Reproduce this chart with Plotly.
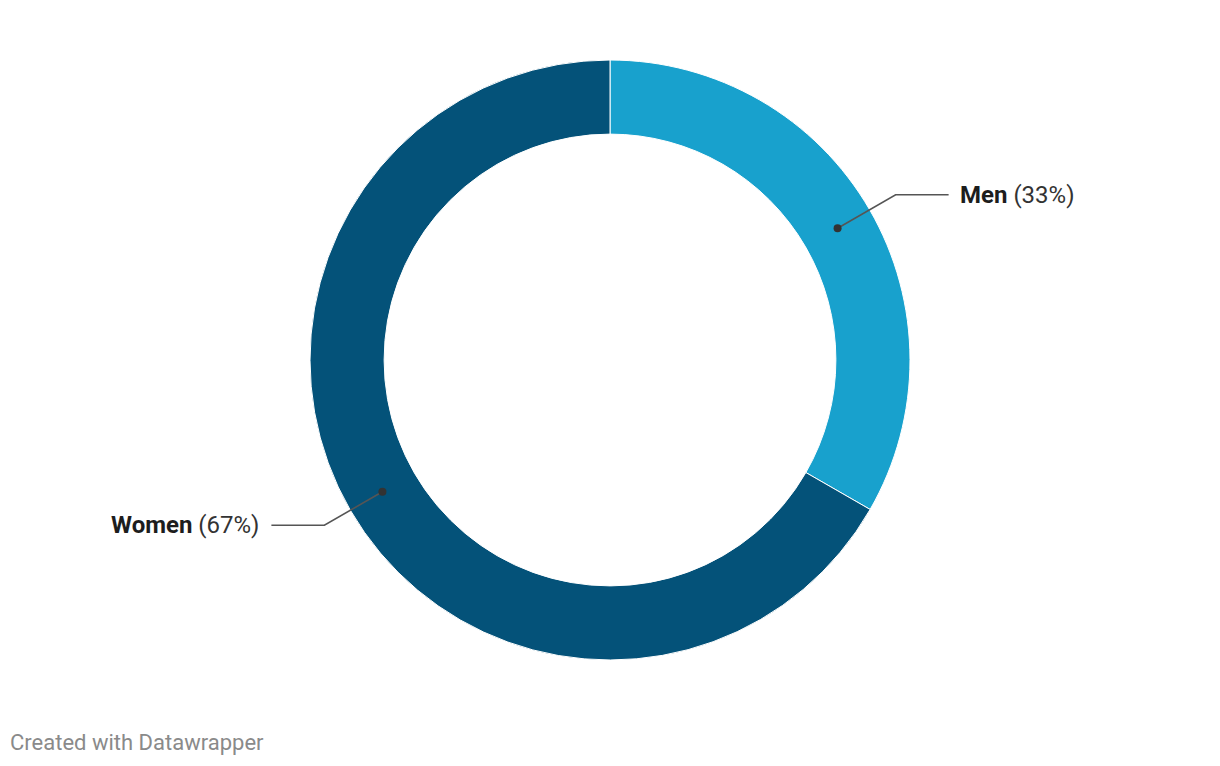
import math
import plotly.graph_objects as go

# ---- data ----
categories = ["Men", "Women"]
values = [33.3, 66.7]
pct_labels = ["33%", "67%"]
colors = ["#18a1cd", "#045279"]

OFF = 8  # page body margin
W, H = 1212, 758
CX, CY = 610 - OFF, 360 - OFF
R_OUT = 300
HOLE = 0.753
R_IN = R_OUT * HOLE

def px_to_paper(x, y):
    return x / W, 1 - y / H

x0, y1 = px_to_paper(CX - R_OUT, CY - R_OUT)
x1, y0 = px_to_paper(CX + R_OUT, CY + R_OUT)

fig = go.Figure(go.Pie(
    labels=categories,
    values=values,
    marker=dict(colors=colors, line=dict(color="white", width=1)),
    hole=HOLE,
    sort=False,
    direction="clockwise",
    rotation=0,
    textinfo="none",
    hoverinfo="label+percent",
    domain=dict(x=[x0, x1], y=[y0, y1]),
    showlegend=False,
))

shapes = []
annotations = []
total = sum(values)
cum = 0
r_dot = (R_IN + R_OUT) / 2
r_elbow = 330
for cat, v, pl in zip(categories, values, pct_labels):
    mid = (cum + v / 2) / total * 2 * math.pi
    cum += v
    sx, sy = math.sin(mid), -math.cos(mid)
    dx, dy = CX + r_dot * sx, CY + r_dot * sy
    ex, ey = CX + r_elbow * sx, CY + r_elbow * sy
    side = 1 if sx >= 0 else -1
    hx = ex + side * 53
    tx = hx + side * (9 if side > 0 else 10)
    path = "M {} {} L {} {} L {} {}".format(
        *px_to_paper(dx, dy), *px_to_paper(ex, ey), *px_to_paper(hx, ey))
    shapes.append(dict(type="path", xref="paper", yref="paper", path=path,
                       line=dict(color="#555555", width=1.6)))
    px0, py0 = px_to_paper(dx - 4, dy - 4)
    px1, py1 = px_to_paper(dx + 4, dy + 4)
    shapes.append(dict(type="circle", xref="paper", yref="paper",
                       x0=px0, x1=px1, y0=py1, y1=py0,
                       fillcolor="#333333", line=dict(width=0)))
    ax, ay = px_to_paper(tx, ey)
    annotations.append(dict(
        x=ax, y=ay, xref="paper", yref="paper",
        xanchor="left" if side > 0 else "right", yanchor="middle",
        text="<b>{}</b> <span style='color:#333333'>({})</span>".format(cat, pl),
        showarrow=False,
        font=dict(family="Roboto", size=24, color="#1d1d1d"),
    ))

annotations.append(dict(
    x=(8 - OFF) / W, y=1 - (742 - OFF) / H, xref="paper", yref="paper",
    xanchor="left", yanchor="middle",
    text="Created with Datawrapper", showarrow=False,
    font=dict(family="Roboto", size=22, color="#8a8a8a"),
))

fig.update_layout(
    width=W, height=H,
    margin=dict(l=0, r=0, t=0, b=0),
    paper_bgcolor="white", plot_bgcolor="white",
    shapes=shapes, annotations=annotations,
    font=dict(family="Roboto"),
)

fig.write_html("out.html")
